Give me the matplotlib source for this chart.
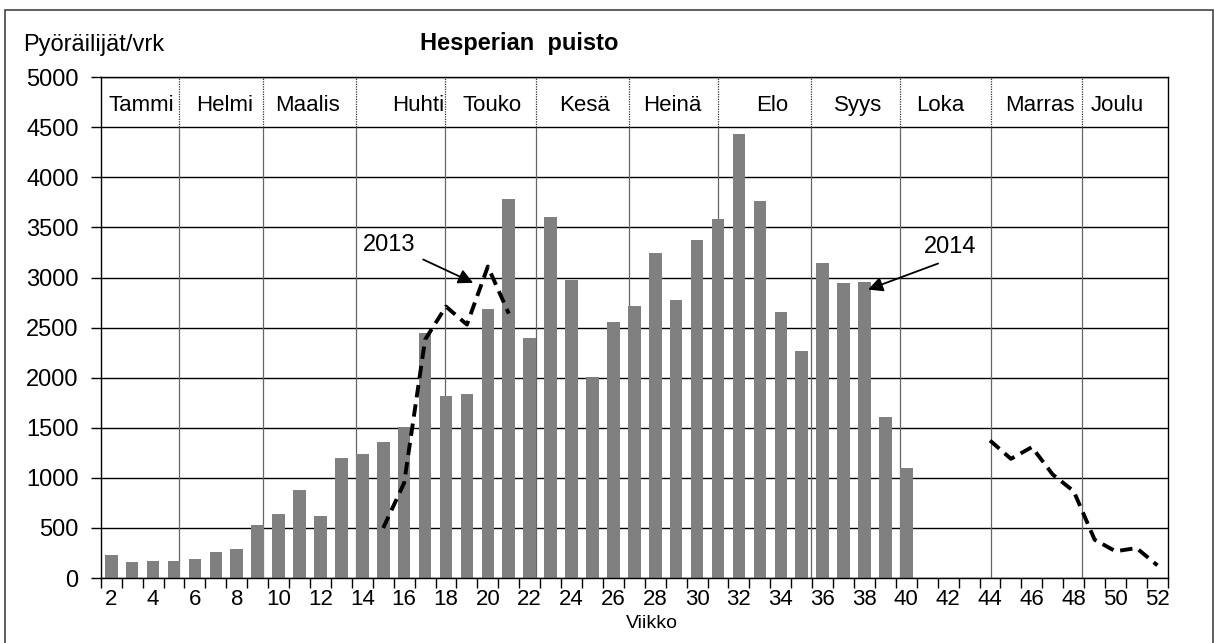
#!/usr/bin/env python3
# -*- coding: utf-8 -*-

import matplotlib.pyplot as plt
from matplotlib.patches import Rectangle
import numpy as np

plt.rcParams['font.family'] = ['Liberation Sans', 'DejaVu Sans']

# viikot 2..52
weeks = list(range(2, 53))

# 2014 pylväät, viikot 2..40
weeks_2014 = list(range(2, 41))
values_2014 = [230, 160, 173, 173, 190, 260, 290, 533, 640, 883,
               620, 1200, 1243, 1357, 1503, 2443, 1817, 1833, 2687, 3780,
               2400, 3607, 2973, 2007, 2557, 2717, 3247, 2773, 3377, 3580,
               4433, 3767, 2653, 2267, 3147, 2943, 2957, 1607, 1097]

# 2013 katkoviiva, kaksi osaa
weeks_2013_a = [15, 16, 17, 18, 19, 20, 21]
values_2013_a = [500, 950, 2380, 2710, 2530, 3110, 2640]
weeks_2013_b = [44, 45, 46, 47, 48, 49, 50, 51, 52]
values_2013_b = [1373, 1190, 1307, 1033, 867, 383, 267, 300, 127]

# kuukaudet
months = ['Tammi', 'Helmi', 'Maalis', 'Huhti', 'Touko', 'Kesä', 'Heinä',
          'Elo', 'Syys', 'Loka', 'Marras', 'Joulu']
month_label_pos = [3.43, 7.44, 11.36, 16.66, 20.2, 24.6, 28.8,
                   33.58, 37.69, 41.6, 46.38, 50.1]
month_bounds = [5.24, 9.25, 13.68, 17.95, 22.3, 26.73, 31.0,
                35.44, 39.69, 44.07, 48.42]

yticks = list(range(0, 5001, 500))


def add_label(ax, text, text_pos, tail, head):
    ax.text(text_pos[0], text_pos[1], text, ha='center', va='center',
            fontsize=17)
    ax.annotate('', xy=head, xytext=tail,
                arrowprops=dict(arrowstyle='-|>', color='black', lw=1.3,
                                mutation_scale=22, shrinkA=0, shrinkB=0))


def main():
    fig = plt.figure(figsize=(12.14, 6.43), dpi=100)
    ax = fig.add_axes([0.083, 0.101, 0.879, 0.779])

    # vaakaviivat
    for y in yticks:
        ax.axhline(y, color='black', lw=1.0, zorder=1)

    # kuukausirajat
    ax.vlines(month_bounds, 0, 4500, color='#666666', lw=0.9, zorder=1)
    ax.vlines(month_bounds, 4500, 5000, color='#333333', lw=0.9,
              linestyles=(0, (1, 1)), zorder=1)

    ax.bar(weeks_2014, values_2014, width=0.6, color='#808080', zorder=2)

    dash = (0, (3.2, 1.8))
    ax.plot(weeks_2013_a, values_2013_a, color='black', lw=2.8,
            linestyle=dash, zorder=3)
    ax.plot(weeks_2013_b, values_2013_b, color='black', lw=2.8,
            linestyle=dash, zorder=3)

    for name, x in zip(months, month_label_pos):
        ax.text(x, 4720, name, ha='center', va='center', fontsize=16)

    add_label(ax, '2013', (15.27, 3320), (16.91, 3180), (19.3, 2947))
    add_label(ax, '2014', (42.08, 3305), (41.52, 3140), (38.17, 2880))

    ax.set_xlim(1.5, 52.5)
    ax.set_ylim(0, 5000)
    ax.set_yticks(yticks)
    ax.set_xticks(weeks[::2])
    ax.set_xticks(np.arange(1.5, 53, 1.0), minor=True)
    ax.tick_params(axis='x', which='major', length=0, labelsize=16, pad=8)
    ax.tick_params(axis='x', which='minor', length=7, width=1.0,
                   direction='out', color='black')
    ax.tick_params(axis='y', length=7, width=1.0, direction='out',
                   labelsize=17, pad=9)
    for s in ax.spines.values():
        s.set_color('black')
        s.set_linewidth(1.0)

    fig.text(0.019, 0.93, 'Pyöräilijät/vrk', fontsize=17, va='center')
    fig.text(0.428, 0.932, 'Hesperian  puisto', fontsize=17,
             fontweight='bold', ha='center', va='center')
    fig.text(0.537, 0.030, 'Viikko', fontsize=14, ha='center', va='center')

    # kehys
    fig.patches.append(Rectangle((5 / 1214, -0.02), 1208 / 1214, 1.02 - 10 / 643,
                                 transform=fig.transFigure, fill=False,
                                 edgecolor='#444444', lw=1.2))

    fig.savefig('out.png', dpi=100)
    plt.close(fig)


if __name__ == "__main__":
    main()
